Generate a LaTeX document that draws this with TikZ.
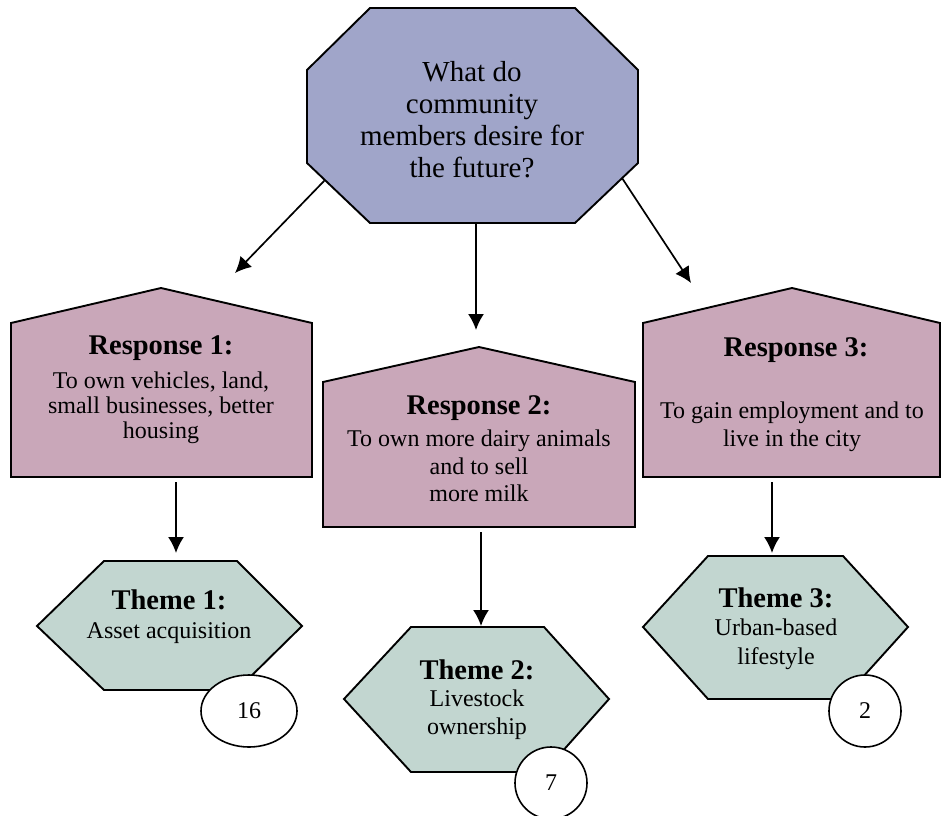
\documentclass[tikz,border=0pt]{standalone}
\usepackage{fontspec}
\setmainfont{Liberation Serif}
\usetikzlibrary{arrows.meta,shapes.geometric}
\definecolor{qfill}{HTML}{A0A5C9}
\definecolor{rfill}{HTML}{C9A7B9}
\definecolor{tfill}{HTML}{C2D6D0}
\begin{document}
\begin{tikzpicture}[x=1pt,y=-1pt,
  shapeline/.style={draw=black,line width=1.9pt,line join=miter},
  conn/.style={draw=black,line width=1.7pt,-{Latex[length=16pt,width=16pt]}},
  qtext/.style={align=center,inner sep=0pt,font=\fontsize{29}{32}\selectfont},
  head/.style={align=center,inner sep=0pt,font=\fontsize{28.5}{30}\selectfont\bfseries},
  body/.style={align=center,inner sep=0pt,font=\fontsize{24}{#1}\selectfont},
  body/.default=26,
  count/.style={draw=black,line width=1.6pt,fill=white,ellipse,inner sep=0pt,font=\fontsize{24}{26}\selectfont}
]
\useasboundingbox (0,0) rectangle (942,816);

% question octagon
\path[shapeline,fill=qfill] (370,8) -- (575,8) -- (638,70) -- (638,163) -- (575,223)
  -- (370,223) -- (307,163) -- (307,70) -- cycle;
\coordinate (qL) at (325,180);
\coordinate (qB) at (476,223);
\coordinate (qR) at (622,178);
\node[qtext] (q) at (472,120) {What do\\community\\members desire for\\the future?};

% response pentagons
\path[shapeline,fill=rfill] (11,477) -- (11,323) -- (161,288) -- (312,323) -- (312,477) -- cycle;
\path[shapeline,fill=rfill] (323,527) -- (323,382) -- (479,347) -- (635,382) -- (635,527) -- cycle;
\path[shapeline,fill=rfill] (643,477) -- (643,323) -- (792,288) -- (940,323) -- (940,477) -- cycle;
\coordinate (r1top) at (235,273);
\coordinate (r2top) at (476,330);
\coordinate (r3top) at (691,283);
\coordinate (r1bot) at (176,482);
\coordinate (r2bot) at (481,532);
\coordinate (r3bot) at (772,482);

\node[head] (r1h) at (161,348) {Response 1:};
\node[body=25] (r1b) at (161,408) {To own vehicles, land,\\small businesses, better\\housing};
\node[head] (r2h) at (479,408) {Response 2:};
\node[body=27.5] (r2b) at (479,466) {To own more dairy animals\\and to sell\\more milk};
\node[head] (r3h) at (796,350) {Response 3:};
\node[body=28] (r3b) at (792,427) {To gain employment and to\\live in the city};

% theme hexagons
\path[shapeline,fill=tfill] (37,626) -- (104,561) -- (237,561) -- (302,626) -- (237,690) -- (104,690) -- cycle;
\path[shapeline,fill=tfill] (344,699) -- (411,627) -- (544,627) -- (609,699) -- (544,772) -- (411,772) -- cycle;
\path[shapeline,fill=tfill] (643,627) -- (708,556) -- (843,556) -- (908,627) -- (843,699) -- (708,699) -- cycle;
\coordinate (t1top) at (176,553);
\coordinate (t2top) at (481,626);
\coordinate (t3top) at (772,553);

\node[head] (t1h) at (169,600) {Theme 1:};
\node[body] (t1b) at (169,633) {Asset acquisition};
\node[head] (t2h) at (477,670) {Theme 2:};
\node[body=28] (t2b) at (477,715) {Livestock\\ownership};
\node[head] (t3h) at (776,598) {Theme 3:};
\node[body=29] (t3b) at (776,644) {Urban-based\\lifestyle};

% counts
\node[count,minimum width=96pt,minimum height=72pt] (c1) at (249,711) {16};
\node[count,minimum width=72pt,minimum height=72pt] (c2) at (551,783) {7};
\node[count,minimum width=72pt,minimum height=72pt] (c3) at (865,711) {2};

% connectors
\draw[conn] (qL) -- (r1top);
\draw[conn] (qB) -- (r2top);
\draw[conn] (qR) -- (r3top);
\draw[conn] (r1bot) -- (t1top);
\draw[conn] (r2bot) -- (t2top);
\draw[conn] (r3bot) -- (t3top);
\end{tikzpicture}
\end{document}
